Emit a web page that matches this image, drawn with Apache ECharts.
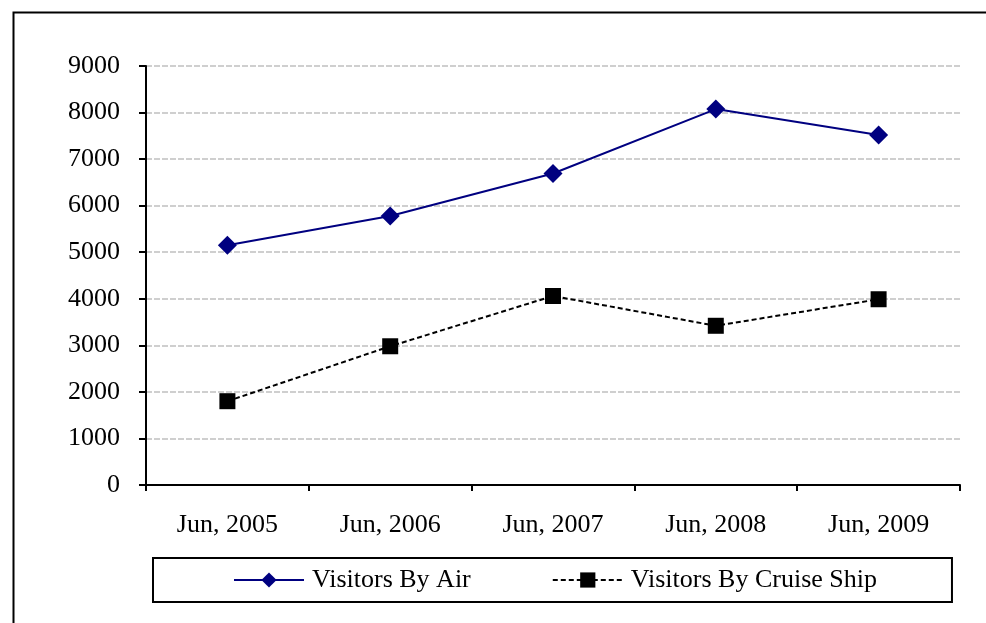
<!DOCTYPE html>
<html>
<head>
<meta charset="utf-8">
<script src="https://cdn.jsdelivr.net/npm/echarts@6/dist/echarts.min.js"></script>
<style>
html,body{margin:0;padding:0;background:#fff;}
#c{width:986px;height:623px;}
</style>
</head>
<body>
<div id="c"></div>
<script>
var categories = ['Jun, 2005', 'Jun, 2006', 'Jun, 2007', 'Jun, 2008', 'Jun, 2009'];
var airValues = [5150, 5780, 6690, 8075, 7520];
var cruiseValues = [1800, 2980, 4060, 3420, 3990];
var seriesNames = ['Visitors By Air', 'Visitors By Cruise Ship'];
var yTicks = {min: 0, max: 9000, interval: 1000};

var font = 'Liberation Serif, "Times New Roman", serif';
var chart = echarts.init(document.getElementById('c'), null, {renderer: 'canvas'});
chart.setOption({
  backgroundColor: '#fff',
  animation: false,
  graphic: [{
    type: 'rect', left: 11, top: 10, silent: true,
    shape: {width: 1000, height: 640},
    style: {fill: 'none', stroke: '#000', lineWidth: 2}
  }],
  grid: {left: 146, top: 66, right: 26, bottom: 138, containLabel: false},
  legend: {
    data: seriesNames,
    left: 153, top: 558,
    padding: [9, 75, 9, 80],
    itemGap: 81,
    itemWidth: 70, itemHeight: 19,
    borderColor: '#000', borderWidth: 2,
    textStyle: {fontFamily: font, fontSize: 26, color: '#000', padding: [0, 0, 0, 3]}
  },
  xAxis: {
    type: 'category', data: categories, boundaryGap: true,
    axisLine: {lineStyle: {color: '#000', width: 2}},
    axisTick: {show: true, inside: false, length: 6, lineStyle: {color: '#000', width: 2}},
    axisLabel: {color: '#000', fontFamily: font, fontSize: 26, margin: 27},
    splitLine: {show: false}
  },
  yAxis: {
    type: 'value', min: yTicks.min, max: yTicks.max, interval: yTicks.interval,
    axisLine: {show: true, lineStyle: {color: '#000', width: 2}},
    axisTick: {show: true, inside: false, length: 7, lineStyle: {color: '#000', width: 2}},
    axisLabel: {color: '#000', fontFamily: font, fontSize: 26, margin: 26,
      formatter: function (v) { return String(v); }},
    splitLine: {show: true, lineStyle: {color: '#c0c0c0', width: 1.5, type: [6, 2]}}
  },
  series: [{
    name: seriesNames[0], type: 'line', data: airValues,
    symbol: 'diamond', symbolSize: 19,
    lineStyle: {color: '#000080', width: 2},
    itemStyle: {color: '#000080'}
  }, {
    name: seriesNames[1], type: 'line', data: cruiseValues,
    symbol: 'rect', symbolSize: 16,
    lineStyle: {color: '#000', width: 2, type: [5, 3]},
    itemStyle: {color: '#000'}
  }]
});
</script>
</body>
</html>
